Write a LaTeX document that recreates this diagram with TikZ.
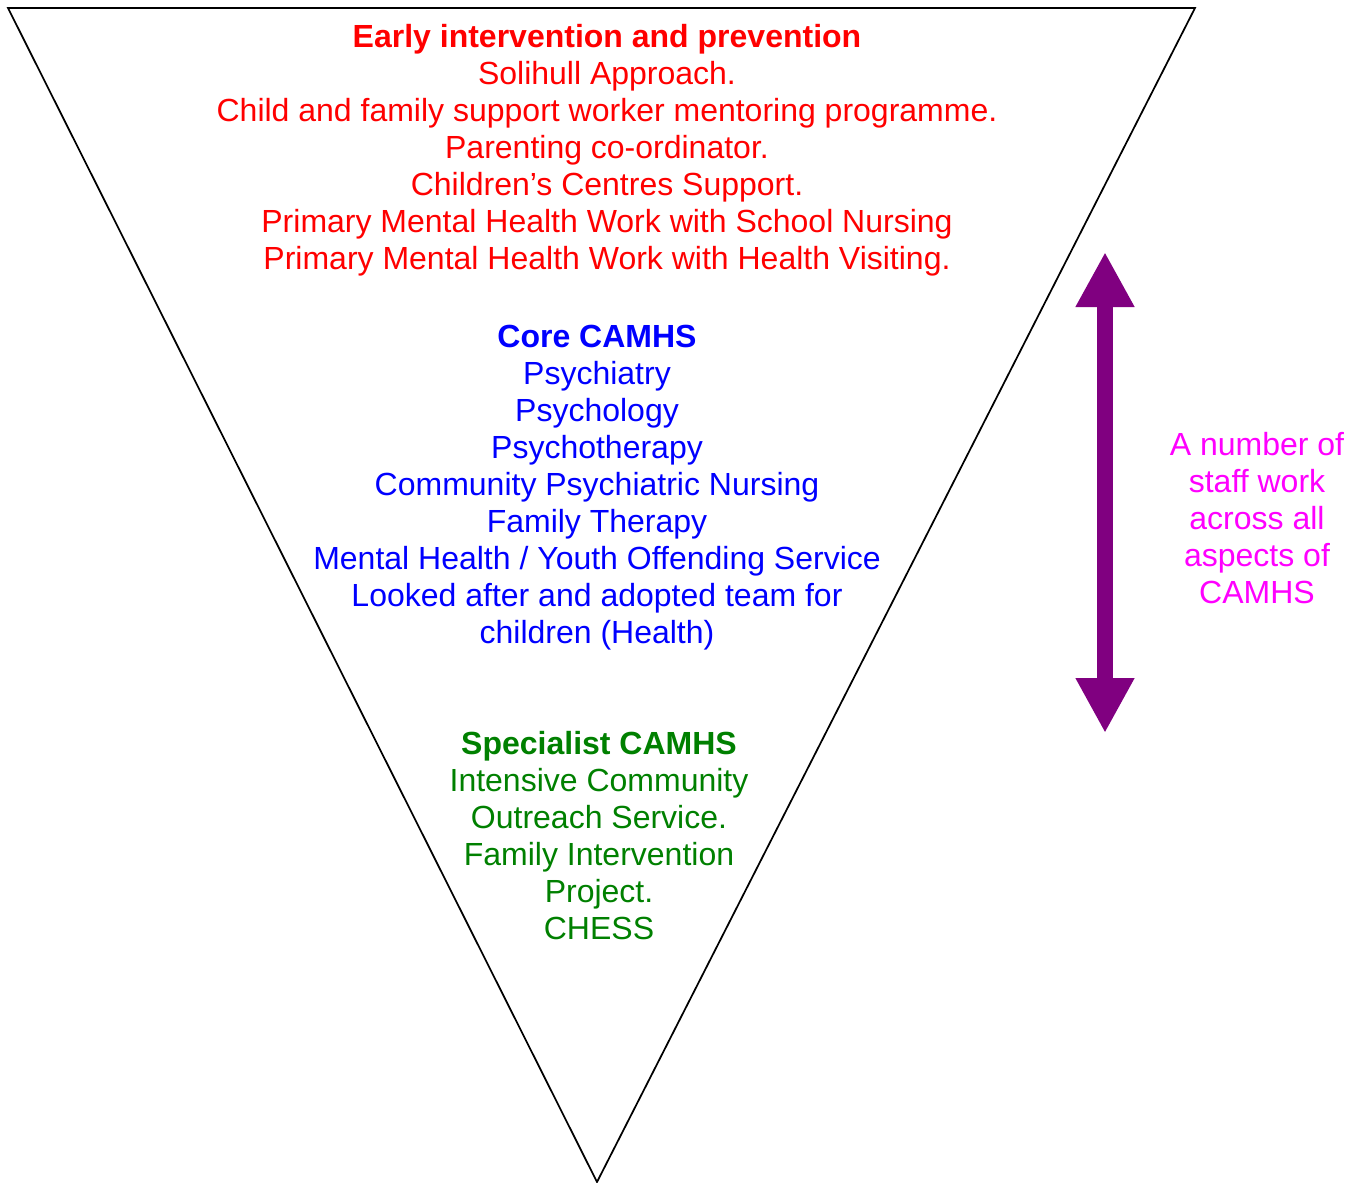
\documentclass[tikz,border=0pt]{standalone}
\usepackage{fontspec}
\setmainfont{Liberation Sans}
\usetikzlibrary{arrows.meta}
\definecolor{camgreen}{RGB}{0,128,0}
\definecolor{campurple}{RGB}{128,0,128}
\definecolor{campink}{RGB}{255,0,255}

\begin{document}
\begin{tikzpicture}[x=0.75pt,y=-0.75pt]
                \tikzstyle{tier}=[align=center,inner sep=0pt,font=\fontsize{24}{27.75}\selectfont]
                \tikzstyle{span}=[draw=campurple,line width=12pt,{Triangle[length=41.25pt,width=41.25pt]}-{Triangle[length=41.25pt,width=41.25pt]}]
                \useasboundingbox (0,0) rectangle (1359,1182);

                % inverted triangle
                \draw[line width=1.3pt,line join=miter] (8,8) -- (1195,8) -- (597,1182) -- cycle;

                \node[tier,text=red] (early) at (607,150.5)
                    {\textbf{Early intervention and prevention}\\
                     Solihull Approach.\\
                     Child and family support worker mentoring programme.\\
                     Parenting co-ordinator.\\
                     Children’s Centres Support.\\
                     Primary Mental Health Work with School Nursing\\
                     Primary Mental Health Work with Health Visiting.};
                \node[tier,text=blue] (core) at (597,487.5)
                    {\textbf{Core CAMHS}\\
                     Psychiatry\\
                     Psychology\\
                     Psychotherapy\\
                     Community Psychiatric Nursing\\
                     Family Therapy\\
                     Mental Health / Youth Offending Service\\
                     Looked after and adopted team for\\
                     children (Health)};
                \node[tier,text=camgreen] (spec) at (599,836)
                    {\textbf{Specialist CAMHS}\\
                     Intensive Community\\
                     Outreach Service.\\
                     Family Intervention\\
                     Project.\\
                     CHESS};
                \node[tier,text=campink] (staff) at (1257,518)
                    {A number of\\ staff work\\ across all\\ aspects of\\ CAMHS};

                \coordinate (top) at (1105,252);
                \coordinate (bot) at (1105,733);
                \draw[span] (top) -- (bot);
\end{tikzpicture}
\end{document}
